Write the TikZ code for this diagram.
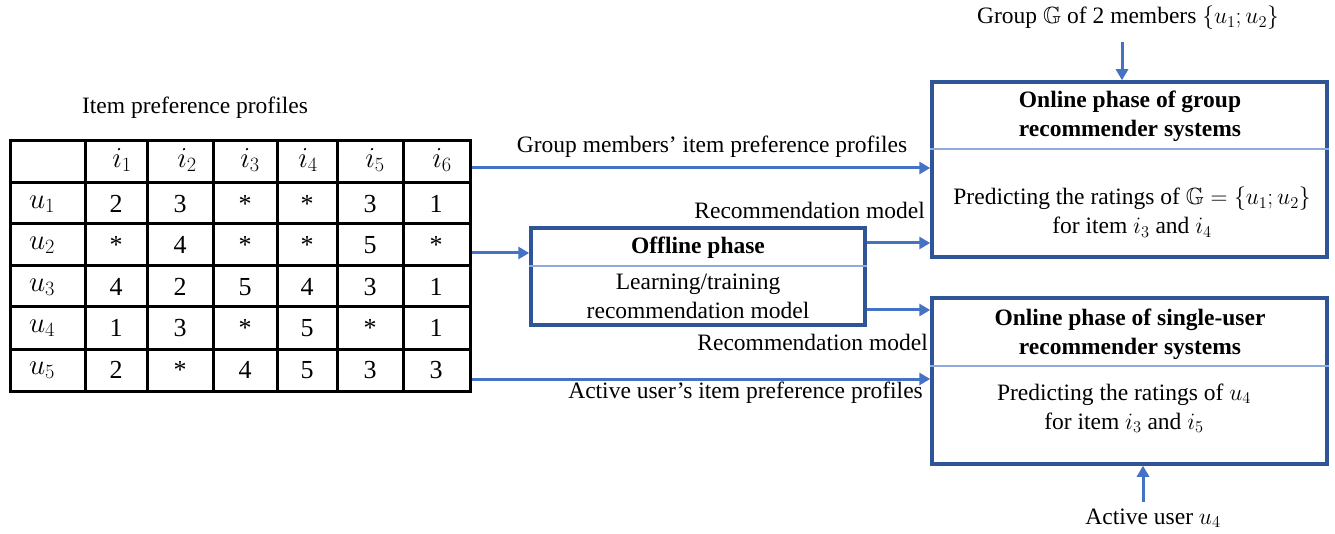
\RequirePackage{fix-cm}
\documentclass[tikz,border=0pt]{standalone}
\usepackage{amssymb}
\usepackage{fontspec}
\setmainfont{Liberation Serif}[Ligatures=TeX]
\newfontfamily\tnr{Liberation Serif}
\usetikzlibrary{arrows.meta}
\definecolor{arrblue}{HTML}{4472C4}
\definecolor{boxblue}{HTML}{2F5597}
\definecolor{divblue}{HTML}{8FAADC}
\begin{document}
\begin{tikzpicture}[x=1pt,y=-1pt,
  lbl/.style={font=\tnr\fontsize{23.5}{29}\selectfont, inner sep=0pt, align=center},
  ttl/.style={font=\tnr\fontsize{23.5}{29}\selectfont\bfseries, inner sep=0pt, align=center},
  cell/.style={font=\tnr\fontsize{26}{30}\selectfont, inner sep=0pt},
  hcell/.style={font=\tnr\fontsize{29}{32}\selectfont, inner sep=0pt},
  phase/.style={draw=boxblue, line width=3.5pt, rectangle, inner sep=0pt},
  arr/.style={draw=arrblue, line width=3pt, -{Triangle[length=11pt,width=12pt]}},
  divline/.style={draw=divblue, line width=1.2pt},
  gridline/.style={line width=3pt, draw=black}
]
\useasboundingbox (0,0) rectangle (1335,534);

% table
\node[gridline, rectangle, minimum width=460pt, minimum height=250pt, inner sep=0pt] (tbl) at (240,266) {};
\foreach \x in {85,147,213,277,337,403} \draw[gridline] (\x,141) -- (\x,391);
\foreach \y in {183,224,266,307,349} \draw[gridline] (10,\y) -- (470,\y);
\node[lbl] (tbltitle) at (195,108) {Item preference profiles};

% header
\foreach \x/\n in {122/1,187/2,250/3,308/4,375/5,442/6}
  \node[hcell] (h\n) at (\x,160) {$i_{\n}$};
\foreach \y/\n in {204/1,245/2,287/3,328/4,370/5}
  \node[hcell] (u\n) at (42,\y) {$u_{\n}$};
% values
\foreach \r/\y/\vals in {1/204/{2,3,*,*,3,1},2/245/{*,4,*,*,5,*},3/287/{4,2,5,4,3,1},4/328/{1,3,*,5,*,1},5/370/{2,*,4,5,3,3}}{
  \foreach \v [count=\c] in \vals {
    \pgfmathsetmacro{\xx}{{116,180,245,307,370,436}[\c-1]}
    \node[cell] (c\r\c) at (\xx,\y) {\v};
  }
}

% phase boxes
\node[phase, minimum width=395pt, minimum height=175pt] (grp) at (1129.5,169.5) {};
\node[phase, minimum width=395pt, minimum height=166pt] (sgl) at (1129.5,381) {};
\node[phase, minimum width=334pt, minimum height=97pt] (off) at (698,276.5) {};

\draw[divline] (grp.west |- 0,149) -- (grp.east |- 0,149);
\draw[divline] (sgl.west |- 0,366) -- (sgl.east |- 0,366);
\draw[divline] (off.west |- 0,266) -- (off.east |- 0,266);

\node[ttl] (grpt) at (1130,116) {Online phase of group\\recommender systems};
\node[lbl] (grpc) at (1132,212) {Predicting the ratings of $\mathbb{G}=\{u_1;u_2\}$\\for item $i_3$ and $i_4$};
\node[ttl] (sglt) at (1130,334) {Online phase of single-user\\recommender systems};
\node[lbl] (sglc) at (1124,408) {Predicting the ratings of $u_4$\\for item $i_3$ and $i_5$};
\node[ttl] (offt) at (698,248) {Offline phase};
\node[lbl] (offc) at (698,296) {Learning/training\\recommendation model};

% top / bottom labels
\node[lbl] (glbl) at (1128,18) {Group $\mathbb{G}$ of 2 members $\{u_1;u_2\}$};
\coordinate (gtop) at (1122,42);
\draw[arr] (gtop) -- (gtop |- grp.north);
\node[lbl] (albl) at (1153,518) {Active user $u_4$};
\coordinate (abot) at (1143,502);
\draw[arr] (abot) -- (abot |- sgl.south);

% connectors
\draw[arr] (tbl.east |- 0,168) -- (grp.west |- 0,168);
\draw[arr] (tbl.east |- 0,253) -- (off.west |- 0,253);
\draw[arr] (off.east |- 0,243) -- (grp.west |- 0,243);
\draw[arr] (off.east |- 0,310) -- (sgl.west |- 0,310);
\draw[arr] (tbl.east |- 0,379) -- (sgl.west |- 0,379);

\node[lbl] (l1) at (712,147) {Group members’ item preference profiles};
\node[lbl, anchor=east] (l2) at (925,210) {Recommendation model};
\node[lbl, anchor=east] (l3) at (928,342) {Recommendation model};
\node[lbl, anchor=east] (l4) at (923,393) {Active user’s item preference profiles};
\end{tikzpicture}
\end{document}
